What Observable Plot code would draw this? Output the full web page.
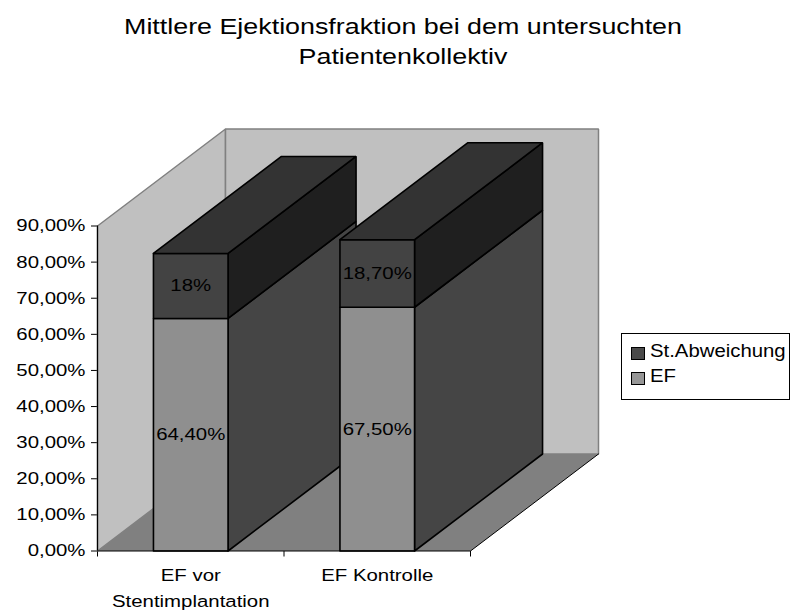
<!DOCTYPE html>
<html>
<head>
<meta charset="utf-8">
<script src="https://cdn.jsdelivr.net/npm/d3@7"></script>
<script src="https://cdn.jsdelivr.net/npm/@observablehq/plot@0.6"></script>
<style>
  html, body { margin: 0; padding: 0; background: #fff; }
  #wrap { position: relative; width: 790px; height: 614px; overflow: hidden; font-family: "Liberation Sans", Arial, sans-serif; color: #000; }
  #wrap svg { position: absolute; left: 0; top: 0; }
  #title { position: absolute; left: 0; top: 12px; width: 806px; text-align: center; font-size: 22px; line-height: 30px; transform: scaleX(1.22); transform-origin: 403px 0; white-space: nowrap; }
  #legend { position: absolute; left: 621px; top: 333px; width: 169px; height: 67px; border: 1px solid #000; box-sizing: border-box; background: #fff; }
  .sw { position: absolute; left: 9px; width: 14px; height: 13px; border: 1px solid #000; box-sizing: border-box; }
  .lt { position: absolute; left: 28px; font-size: 18px; line-height: 18px; white-space: nowrap; transform: scaleX(1.13); transform-origin: 0 0; }
</style>
</head>
<body>
<div id="wrap">
  <div id="title">Mittlere Ejektionsfraktion bei dem untersuchten<br>Patientenkollektiv</div>
  <div id="legend"></div>
</div>
<script>
// ---- data ----
const categories = ["EF vor\nStentimplantation", "EF Kontrolle"];
const efValues = [64.4, 67.5];
const sdValues = [18, 18.7];
const efLabels = ["64,40%", "67,50%"];
const sdLabels = ["18%", "18,70%"];
const yTicks = [0, 10, 20, 30, 40, 50, 60, 70, 80, 90];
const seriesNames = ["St.Abweichung", "EF"];

// ---- styling ----
const colors = {
  wall: "#c0c0c0", wallStroke: "#808080", floor: "#808080",
  efFront: "#8f8f8f", efSide: "#454545",
  sdFront: "#434343", sdSide: "#1f1f1f", top: "#333333"
};
const legendColors = ["#4a4a4a", "#969696"];

const W = 790, H = 614;
const mL = 97, mR = 320, mT = 225.5, mB = 63.5;
const xDomain = [0, categories.length];
const yDomain = [0, 90];
// 3D depth offset in pixels, converted into data units
const depthPx = [128, 97];
const kx = (W - mL - mR) / (xDomain[1] - xDomain[0]);
const ky = (H - mT - mB) / (yDomain[1] - yDomain[0]);
const DX = depthPx[0] / kx, DY = depthPx[1] / ky;
const halfBar = 0.2;

function poly(id, color, pts) {
  return pts.concat([pts[0]]).map(([x, y]) => ({id, color, x, y}));
}

const X0 = xDomain[0], X1 = xDomain[1], Y0 = yDomain[0], Y1 = yDomain[1];
const walls = [
  ...poly("left", colors.wall, [[X0, Y0], [X0, Y1], [X0 + DX, Y1 + DY], [X0 + DX, Y0 + DY]]),
  ...poly("back", colors.wall, [[X0 + DX, Y0 + DY], [X0 + DX, Y1 + DY], [X1 + DX, Y1 + DY], [X1 + DX, Y0 + DY]])
];
const floor = poly("floor", colors.floor, [[X0, Y0], [X1, Y0], [X1 + DX, Y0 + DY], [X0 + DX, Y0 + DY]]);
const floorEdge = [{x: X1, y: Y0}, {x: X1 + DX, y: Y0 + DY}];

const barFaces = [];
const labels = [];
categories.forEach((c, i) => {
  const cx = i + 0.5, x1 = cx - halfBar, x2 = cx + halfBar;
  const segs = [
    {lo: 0, hi: efValues[i], front: colors.efFront, side: colors.efSide, label: efLabels[i]},
    {lo: efValues[i], hi: efValues[i] + sdValues[i], front: colors.sdFront, side: colors.sdSide, label: sdLabels[i]}
  ];
  segs.forEach((s, j) => {
    barFaces.push(...poly(`side${i}${j}`, s.side, [[x2, s.lo], [x2 + DX, s.lo + DY], [x2 + DX, s.hi + DY], [x2, s.hi]]));
  });
  segs.forEach((s, j) => {
    barFaces.push(...poly(`front${i}${j}`, s.front, [[x1, s.lo], [x2, s.lo], [x2, s.hi], [x1, s.hi]]));
    labels.push({x: cx, y: (s.lo + s.hi) / 2, text: s.label});
  });
  const t = efValues[i] + sdValues[i];
  barFaces.push(...poly(`top${i}`, colors.top, [[x1, t], [x2, t], [x2 + DX, t + DY], [x1 + DX, t + DY]]));
});
const catLabels = categories.map((c, i) => ({x: i + 0.5, y: 0, text: c}));

const chart = Plot.plot({
  width: W, height: H,
  marginLeft: mL, marginRight: mR, marginTop: mT, marginBottom: mB,
  style: {fontFamily: "Liberation Sans, Arial, sans-serif", fontSize: "17px", color: "#000", background: "#fff"},
  x: {domain: xDomain, ticks: [0, 1, 2], tickFormat: () => "", tickSize: 6, label: null},
  y: {domain: yDomain, ticks: yTicks, tickFormat: d => `${d},00%`, tickSize: 6, tickPadding: 6, label: null},
  marks: [
    Plot.line(walls, {x: "x", y: "y", z: "id", fill: "color", stroke: colors.wallStroke, strokeWidth: 1.5, strokeLinejoin: "miter", curve: "linear"}),
    Plot.line(floor, {x: "x", y: "y", z: "id", fill: "color", stroke: "none"}),
    Plot.line(floorEdge, {x: "x", y: "y", stroke: "#000", strokeWidth: 1}),
    Plot.line(barFaces, {x: "x", y: "y", z: "id", fill: "color", stroke: "#000", strokeWidth: 1.6, strokeLinejoin: "miter"}),
    Plot.ruleX([0], {stroke: "#000", strokeWidth: 1.2}),
    Plot.ruleY([0], {stroke: "#000", strokeWidth: 1.2}),
    Plot.text(labels, {x: "x", y: "y", text: "text", fill: "#000", fontSize: 17}),
    Plot.text(catLabels, {x: "x", y: "y", text: "text", fill: "#000", fontSize: 17, lineAnchor: "top", dy: 12, lineHeight: 1.5})
  ]
});

const wrap = document.getElementById("wrap");
wrap.insertBefore(chart, wrap.firstChild);

// horizontal stretch of the text (the reference glyphs are wider than tall)
chart.querySelectorAll("text").forEach(t => {
  const b = t.getBBox();
  if (!b.width) return;
  const anchor = getComputedStyle(t).textAnchor;
  const ax = anchor === "end" ? b.x + b.width : anchor === "middle" ? b.x + b.width / 2 : b.x;
  const prev = t.getAttribute("transform") || "";
  t.setAttribute("transform", `${prev} translate(${ax},0) scale(1.2,1) translate(${-ax},0)`);
});

// legend
const legend = document.getElementById("legend");
seriesNames.forEach((name, i) => {
  const sw = document.createElement("div");
  sw.className = "sw";
  sw.style.top = (13 + i * 25) + "px";
  sw.style.background = legendColors[i];
  legend.appendChild(sw);
  const lt = document.createElement("div");
  lt.className = "lt";
  lt.style.top = (8 + i * 25) + "px";
  lt.textContent = name;
  legend.appendChild(lt);
});
</script>
</body>
</html>
